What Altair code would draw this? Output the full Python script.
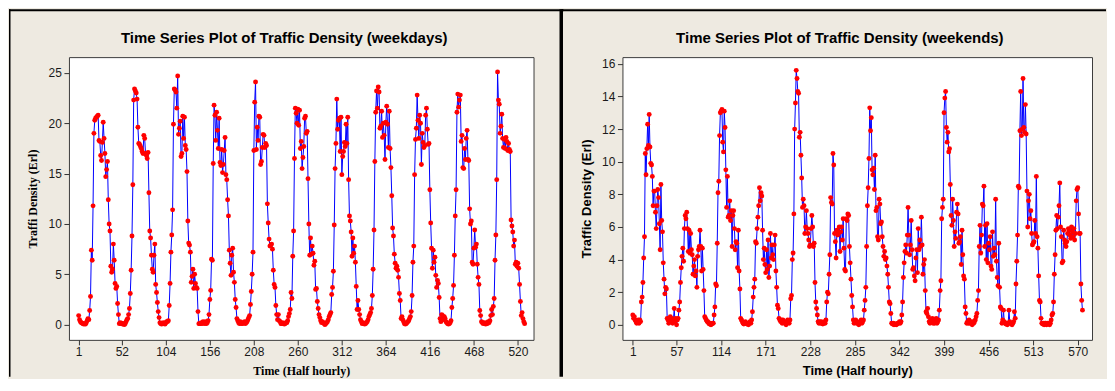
import altair as alt
import pandas as pd

# ---------------- weekday series (11 days x 48 half-hours) ----------------
wd_day01 = [0.9, 0.5, 0.3, 0.2, 0.15, 0.1, 0.05, 0.1, 0.05, 0.2, 0.4, 0.6, 0.5, 1.4,
            2.8, 7.4, 6.4, 11.8, 19.0, 20.3, 20.5, 20.6, 20.7, 20.8, 18.3,
            18.2, 16.8, 16.3, 18.1, 20.1, 18.5, 17.0, 14.7, 15.4, 16.2, 12.4,
            10.0, 9.3, 5.8, 5.2, 5.5, 8.0, 6.4, 4.1, 3.6, 3.8, 2.1, 1.0]
wd_day02 = [0.1, 0.2, 0.1, 0.15, 0.05, 0.1, 0.0, 0.1, 0.3, 0.5, 0.6, 1.0, 1.6,
            3.1, 5.4, 8.8, 13.9, 22.3, 23.4, 23.2, 23.0, 22.4, 19.6,
            18.0, 17.9, 17.7, 17.5, 17.2, 17.0, 18.8, 18.5, 17.0, 16.8, 16.5, 17.1,
            13.1, 9.3, 8.6, 6.9, 5.5, 5.2, 6.9, 8.0, 4.0, 3.2, 2.2, 1.3, 0.7]
wd_day03 = [0.2, 0.1, 0.05, 0.1, 0.2, 0.1, 0.05, 0.2, 0.3, 0.3, 0.4, 1.9,
            4.1, 7.2, 8.9, 11.4, 19.9, 23.4, 23.3, 23.1, 21.5, 24.7,
            18.9, 19.5, 20.2, 16.7, 17.0, 20.7, 18.5, 20.6, 17.8, 17.4, 15.2,
            10.3, 8.1, 7.9, 7.2, 4.2, 4.8, 5.5, 3.6, 5.0, 4.1, 3.7, 3.6, 1.3, 0.1, 0.1]
wd_day04 = [0.1, 0.2, 0.1, 0.3, 0.2, 0.1, 0.3, 0.1, 0.2, 0.4, 1.0, 2.5,
            3.4, 6.5, 6.4, 16.0, 21.8, 20.8, 18.3, 21.1, 19.3, 17.5, 20.5,
            16.1, 15.8, 17.4, 15.1, 15.9, 17.3, 18.6, 14.9, 14.4, 12.4, 10.8,
            7.4, 6.1, 4.9, 6.9, 7.6, 5.2, 4.2, 2.5, 1.7, 0.6, 0.4, 0.2, 0.1, 0.3]
wd_day05 = [0.1, 0.2, 0.1, 0.2, 0.3, 0.1, 0.2, 0.3, 0.5, 0.7, 0.9, 2.0,
            3.3, 5.0, 7.2, 17.3, 22.1, 24.1, 17.4, 19.6, 18.3, 20.7, 20.6,
            15.9, 16.2, 17.6, 18.9, 18.8, 17.6, 18.0, 17.8, 12.0, 10.1, 8.5,
            7.8, 7.9, 8.0, 7.5, 5.4, 4.0, 3.7, 1.9, 1.0, 0.5, 1.0, 0.4, 0.3, 0.1]
wd_day06 = [0.1, 0.2, 0.1, 0.05, 0.1, 0.2, 0.2, 0.4, 0.8, 1.1, 1.5, 3.2,
            2.6, 6.8, 9.3, 16.5, 21.5, 21.0, 20.0, 21.4, 19.8, 21.3, 17.5,
            18.2, 15.5, 16.6, 17.7, 20.5, 20.7, 19.0, 19.2, 14.5, 10.0, 6.9,
            8.6, 7.0, 7.8, 7.1, 5.9, 6.3, 3.5, 3.6, 2.3, 1.6, 1.0, 0.7, 0.4, 0.2]
wd_day07 = [0.3, 0.2, 0.1, 0.0, 0.1, 0.2, 0.3, 0.5, 0.8, 1.0, 1.2, 3.0,
            3.7, 5.3, 9.9, 15.5, 18.0, 22.4, 19.4, 20.3, 20.5, 17.2, 20.6,
            14.9, 16.7, 17.2, 18.1, 17.7, 19.9, 18.0, 20.6, 14.4, 10.8, 10.3,
            9.2, 6.8, 8.6, 7.1, 7.8, 6.2, 3.8, 1.5, 2.4, 1.5, 1.0, 0.5, 0.3, 0.1]
wd_day08 = [0.2, 0.1, 0.05, 0.1, 0.2, 0.3, 0.5, 0.8, 1.0, 1.2, 1.6, 2.9,
            5.5, 9.4, 16.2, 21.1, 23.2, 21.5, 23.6, 23.1, 19.5, 19.7, 21.2,
            18.6, 20.0, 18.8, 16.4, 20.1, 21.7, 19.9, 17.6, 21.2, 17.5, 15.6,
            12.8, 9.6, 8.8, 7.0, 6.1, 5.6, 5.8, 5.4, 4.7, 3.1, 2.4, 0.6, 0.8, 0.5]
wd_day09 = [0.3, 0.1, 0.05, 0.1, 0.2, 0.3, 0.4, 0.6, 0.8, 1.3, 2.9, 6.2,
            7.8, 14.9, 18.4, 19.5, 22.8, 20.3, 18.5, 20.8, 20.0, 15.9, 19.0,
            18.1, 17.6, 17.8, 20.8, 21.5, 19.4, 17.9, 18.0, 13.4, 10.1, 7.6,
            5.6, 7.4, 6.2, 6.7, 4.9, 3.7, 4.4, 4.1, 2.7, 0.6, 0.3, 1.0, 0.9, 0.5]
wd_day10 = [0.8, 0.6, 0.3, 0.2, 0.1, 0.05, 0.1, 0.2, 0.4, 1.7, 2.6, 3.9,
            6.9, 10.8, 13.4, 21.1, 22.9, 21.6, 22.3, 22.8, 18.2, 18.8, 15.6,
            15.5, 17.5, 16.4, 18.5, 19.3, 16.4, 16.3, 11.5, 10.0, 10.3, 6.2,
            6.0, 7.6, 9.4, 7.7, 8.0, 6.0, 4.7, 4.0, 1.4, 0.9, 0.3, 0.2, 0.1, 0.2]
wd_day11 = [0.1, 0.05, 0.2, 0.1, 0.3, 0.2, 0.4, 0.9, 1.5, 1.0, 1.8, 2.6,
            6.4, 8.9, 14.4, 25.1, 22.3, 21.9, 19.0, 19.7, 20.9, 18.5, 17.6,
            18.4, 17.5, 18.6, 18.2, 17.3, 18.0, 17.4, 17.2, 10.4, 9.8, 9.2,
            7.8, 8.4, 6.0, 6.2, 5.8, 6.1, 5.6, 4.0, 2.3, 0.9, 1.2, 0.6, 0.3, 0.1]

# ---------------- weekend series (12 days x 48 half-hours) ----------------
we_day01 = [0.6, 0.4, 0.5, 0.3, 0.2, 0.1, 0.2, 0.3, 0.1, 0.3, 0.2, 1.4,
            1.7, 2.6, 4.1, 5.4, 10.5, 9.2, 10.8, 12.3, 11.0, 12.9, 10.9,
            9.9, 9.8, 9.1, 7.3, 8.2, 8.2, 6.9, 5.9, 7.3, 8.3, 7.8,
            6.2, 4.6, 8.6, 6.4, 5.7, 3.8, 2.8, 1.9, 2.3, 2.2, 0.4, 0.3, 0.1, 0.4]
we_day02 = [0.5, 0.2, 0.4, 0.1, 0.3, 1.0, 0.2, 0.4, 0.0, 0.3, 0.4, 0.9,
            1.4, 2.6, 3.5, 4.2, 4.7, 3.9, 5.9, 6.7, 6.5, 6.9, 5.9,
            4.5, 5.8, 4.4, 5.6, 4.6, 4.3, 3.1, 3.6, 4.0, 3.0, 3.3,
            2.3, 4.2, 4.6, 4.8, 5.8, 4.8, 3.3, 4.7, 3.4, 2.1, 0.5, 0.4, 0.3, 0.2]
we_day03 = [0.2, 0.1, 0.05, 0.1, 0.0, 0.05, 0.1, 0.1, 0.6, 1.1, 2.5, 2.4,
            5.0, 8.1, 8.8, 11.6, 13.0, 13.1, 13.2, 11.2, 10.6, 13.1, 12.1,
            9.5, 7.2, 9.1, 6.6, 6.7, 7.6, 6.4, 7.0, 4.8, 6.7, 7.0,
            5.9, 4.6, 5.1, 5.0, 3.5, 5.8, 3.3, 2.2, 0.4, 0.3, 0.2, 0.1, 0.05, 0.1]
we_day04 = [0.2, 0.1, 0.05, 0.1, 0.0, 0.1, 0.2, 0.1, 0.3, 0.8, 1.7, 2.3,
            2.8, 5.1, 5.0, 5.9, 6.6, 7.3, 8.4, 7.6, 8.1, 7.9, 5.8,
            4.0, 4.7, 3.7, 3.2, 4.6, 3.4, 5.2, 2.9, 3.6, 5.6, 4.1,
            4.9, 4.3, 4.0, 4.9, 5.5, 3.3, 2.3, 1.2, 1.0, 0.4, 0.3, 0.2, 0.3, 0.1]
we_day05 = [0.3, 0.2, 0.1, 0.2, 0.0, 0.1, 0.3, 0.2, 0.1, 0.3, 1.6, 1.8,
            4.0, 4.4, 6.8, 12.0, 13.6, 15.6, 15.1, 14.3, 14.2, 11.5, 11.8,
            10.4, 9.0, 7.2, 7.7, 7.3, 5.6, 6.0, 7.0, 5.9, 5.6, 5.2,
            4.8, 4.9, 5.9, 6.7, 6.0, 4.8, 5.0, 2.6, 1.4, 1.0, 0.6, 0.2, 0.1, 0.2]
we_day06 = [0.1, 0.2, 0.1, 0.05, 0.1, 0.2, 0.1, 0.3, 1.4, 2.0, 1.9, 3.1,
            4.3, 7.8, 7.5, 7.4, 10.5, 9.8, 5.6, 5.1, 4.1, 5.8, 5.5,
            5.6, 6.0, 4.5, 5.7, 6.0, 5.2, 6.5, 4.7, 3.4, 3.3, 6.5,
            6.4, 6.8, 6.7, 4.8, 3.8, 2.8, 1.8, 1.1, 0.3, 0.1, 0.2, 0.3, 0.1, 0.2]
we_day07 = [0.1, 0.0, 0.1, 0.2, 0.3, 0.1, 0.2, 0.3, 0.9, 1.5, 2.3, 4.8,
            7.3, 8.4, 10.2, 13.3, 11.9, 12.7, 9.5, 9.2, 9.6, 8.3, 10.4,
            7.0, 7.2, 5.4, 5.2, 7.7, 7.4, 6.2, 6.3, 5.4, 4.8, 4.2,
            4.5, 4.0, 4.1, 3.6, 3.1, 2.3, 1.4, 1.3, 0.7, 0.1, 0.05, 0.1, 0.0, 0.05]
we_day08 = [0.05, 0.0, 0.05, 0.1, 0.1, 0.2, 0.1, 0.2, 0.6, 1.4, 2.9, 3.8,
            4.5, 4.9, 4.4, 5.5, 7.2, 5.5, 4.3, 4.9, 6.4, 4.6, 3.4,
            3.5, 3.0, 2.7, 4.1, 4.6, 3.2, 5.9, 4.6, 5.2, 4.8, 6.6,
            4.9, 3.1, 3.7, 4.0, 2.1, 0.8, 0.7, 1.0, 0.5, 0.2, 0.1, 0.3, 0.2, 0.4]
we_day09 = [0.1, 0.3, 0.1, 0.2, 0.4, 0.1, 0.2, 0.3, 0.9, 2.1, 2.7, 6.5,
            7.2, 7.7, 13.0, 13.9, 14.3, 12.1, 11.2, 11.8, 10.6, 10.8, 8.6,
            6.7, 6.1, 7.7, 6.4, 4.8, 5.7, 5.3, 6.9, 7.4, 6.8, 5.0,
            5.1, 5.4, 3.7, 5.8, 4.3, 3.0, 2.8, 1.1, 0.7, 0.1, 0.2, 0.1, 0.3, 0.1]
we_day10 = [0.2, 0.1, 0.0, 0.2, 0.1, 0.2, 0.3, 0.5, 0.7, 1.5, 2.1, 4.8,
            6.1, 4.4, 5.5, 7.4, 7.3, 8.5, 4.8, 6.1, 4.0, 6.2, 3.8,
            5.0, 4.6, 5.4, 3.6, 3.4, 5.7, 4.2, 4.7, 4.3, 7.7, 3.9,
            2.9, 2.4, 5.0, 2.3, 1.1, 1.0, 0.1, 0.3, 0.9, 0.2, 0.1, 0.05, 0.1, 0.0]
we_day11 = [0.1, 0.9, 0.2, 0.1, 0.05, 0.0, 0.1, 0.2, 0.8, 0.4, 2.5, 3.9,
            5.5, 8.5, 8.4, 11.9, 14.3, 11.6, 12.0, 15.1, 12.1, 11.8, 13.5,
            11.7, 8.2, 6.0, 7.6, 8.0, 6.5, 7.0, 5.6, 4.9, 5.0, 5.1,
            6.4, 5.6, 9.1, 5.4, 4.7, 3.0, 1.5, 1.4, 0.4, 0.1, 0.05, 0.1, 0.0, 0.1]
we_day12 = [0.1, 0.0, 0.1, 0.05, 0.1, 0.0, 0.1, 0.3, 0.6, 0.7, 1.4, 3.1,
            4.3, 5.8, 6.7, 5.9, 6.6, 7.3, 8.7, 6.0, 5.4, 3.8, 3.9,
            5.8, 5.2, 5.0, 4.8, 5.1, 5.6, 5.9, 5.8, 5.5, 5.3, 6.0,
            5.7, 5.4, 5.9, 5.2, 5.6, 7.6, 8.3, 8.4, 6.8, 5.6, 5.6, 2.5, 1.5, 0.9]

weekday_days = [wd_day01, wd_day02, wd_day03, wd_day04, wd_day05, wd_day06,
                wd_day07, wd_day08, wd_day09, wd_day10, wd_day11]
weekend_days = [we_day01, we_day02, we_day03, we_day04, we_day05, we_day06,
                we_day07, we_day08, we_day09, we_day10, we_day11, we_day12]

wd_xticks = [1, 52, 104, 156, 208, 260, 312, 364, 416, 468, 520]
we_xticks = [1, 57, 114, 171, 228, 285, 342, 399, 456, 513, 570]
wd_yticks = [0, 5, 10, 15, 20, 25]
we_yticks = [0, 2, 4, 6, 8, 10, 12, 14, 16]

wd_title = "Time Series Plot of Traffic Density (weekdays)"
we_title = "Time Series Plot of Traffic Density (weekends)"
wd_ytitle = "Traffi Density (Erl)"
we_ytitle = "Traffic Density (Erl)"
xtitle = "Time (Half hourly)"

BEIGE = "#EEEAE1"
TICK_FONT = "Liberation Sans"

dummy = pd.DataFrame({"k": [0]})


def frame_bar(x1, x2, y1, y2, color="black"):
    # decorative frame line drawn as a filled rect (no stroke, exact bounds)
    return alt.Chart(dummy).mark_rect(color=color, strokeWidth=0).encode(
        x=alt.value(x1), x2=alt.value(x2), y=alt.value(y1), y2=alt.value(y2))


def panel(days, xticks, yticks, xdom, ydom, w, h, title, title_x, ytitle,
          title_font, title_size, deco):
    vals = [v for d in days for v in d]
    df = pd.DataFrame({"t": list(range(1, len(vals) + 1)), "v": vals})
    x = alt.X("t:Q", scale=alt.Scale(domain=xdom, nice=False, zero=False),
              axis=alt.Axis(values=xticks, title=xtitle, grid=False, domain=False,
                            tickSize=5, tickColor="#333333", labelPadding=2,
                            labelFont=TICK_FONT, labelFontSize=12, labelColor="#1a1a1a",
                            labelFlush=False, labelOverlap=False,
                            titleFont=title_font, titleFontSize=title_size,
                            titleFontWeight="bold", titleColor="black",
                            titleX=w / 2, titleY=31, titleAlign="center",
                            titleBaseline="middle"))
    y = alt.Y("v:Q", scale=alt.Scale(domain=ydom, nice=False, zero=False),
              axis=alt.Axis(values=yticks, title=ytitle, grid=False, domain=False,
                            tickSize=5, tickColor="#333333", labelPadding=2.5,
                            labelFont=TICK_FONT, labelFontSize=12, labelColor="#1a1a1a",
                            labelFlush=False, labelOverlap=False,
                            titleFont=title_font, titleFontSize=title_size,
                            titleFontWeight="bold", titleColor="black",
                            titleAngle=270, titleX=-36, titleY=h / 2,
                            titleAlign="center", titleBaseline="middle"))
    line = alt.Chart(df).mark_line(color="#0000FF", strokeWidth=1).encode(x=x, y=y)
    pts = alt.Chart(df).mark_circle(color="#FF0000", size=24, opacity=1).encode(x=x, y=y)
    ttl = alt.Chart(dummy).mark_text(text=title, font="Liberation Sans", fontSize=15,
                                     fontWeight="bold", align="center",
                                     baseline="middle", color="black").encode(
        x=alt.value(title_x), y=alt.value(-19.5))
    return alt.layer(*deco, line, pts, ttl).properties(width=w, height=h)


LW, RW, H = 465, 470, 283

left = panel(weekday_days, wd_xticks, wd_yticks, [-10.5, 538.5], [-1.51, 26.57],
             LW, H, wd_title, 215.5, wd_ytitle, "Liberation Serif", 12,
             [frame_bar(-60, 495, -48, -46),
              frame_bar(-60, -58.5, -48, 320),
              frame_bar(491, 494.5, -48, 320)])
right = panel(weekend_days, we_xticks, we_yticks, [-12.2, 588.2], [-0.92, 16.41],
              RW, H, we_title, 217.6, we_ytitle, "Liberation Sans", 13,
              [frame_bar(-61, 484, -48, -46)])

chart = alt.hconcat(left, right, spacing=89, bounds="flush", padding=0).configure(
    background=BEIGE
).configure_view(stroke="#3c3c3c", strokeWidth=1, fill="white")

chart.save("out.html", embed_options={"renderer": "svg", "actions": False})
